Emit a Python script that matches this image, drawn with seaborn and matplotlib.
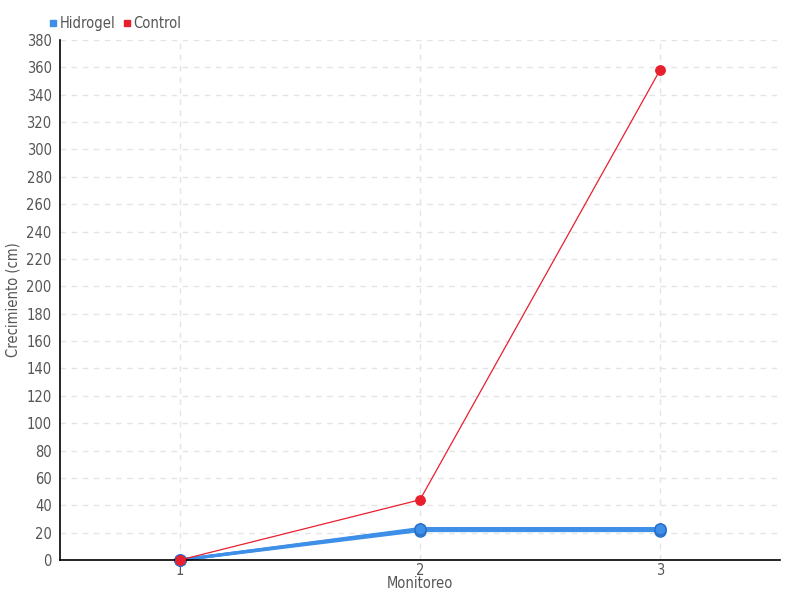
import numpy as np
import pandas as pd
import seaborn as sns
import matplotlib
matplotlib.use("Agg")
import matplotlib.pyplot as plt
from matplotlib.lines import Line2D

monitoreo = [1, 2, 3]
hidrogel_a = [0, 21.5, 21.5]
hidrogel_b = [0, 22.5, 22.5]
hidrogel_c = [0, 23, 23]
control = [0, 44, 358]
yticks = list(range(0, 381, 20))

sns.set_style("white")
plt.rcParams['font.family'] = ['DejaVu Sans']
plt.rcParams['font.stretch'] = 'condensed'

blue = "#3d8fe8"
red = "#e8202e"
txt = "#555555"

fig = plt.figure(figsize=(8, 6), dpi=100)
ax = fig.add_axes([60/800, 40/600, 720/800, 520/600])

for vals in [hidrogel_a, hidrogel_b, hidrogel_c]:
    df = pd.DataFrame({"Monitoreo": monitoreo, "v": vals})
    sns.lineplot(data=df, x="Monitoreo", y="v", ax=ax, color=blue, lw=2.2,
                 marker="o", markersize=8, markerfacecolor=blue,
                 markeredgecolor="#2a70c8", markeredgewidth=1, clip_on=False)

dfc = pd.DataFrame({"Monitoreo": monitoreo, "v": control})
sns.lineplot(data=dfc, x="Monitoreo", y="v", ax=ax, color=red, lw=0.9,
             marker="o", markersize=7, markerfacecolor=red,
             markeredgecolor=red, zorder=10, clip_on=False)

ax.set_xlim(0.5, 3.5)
ax.set_ylim(0, 380)
ax.set_yticks(yticks)
ax.set_xticks(monitoreo)
ax.set_xticklabels([str(m) for m in monitoreo])
ax.grid(True, color="#e4e4e4", linestyle=(0, (4, 4)), lw=1)
for s in ["top", "right"]:
    ax.spines[s].set_visible(False)
for s in ["left", "bottom"]:
    ax.spines[s].set_color("black")
    ax.spines[s].set_linewidth(1.2)
ax.tick_params(axis="y", direction="out", length=5, width=1.2, color="black",
               labelsize=10.5, labelcolor=txt, pad=1)
ax.tick_params(axis="x", direction="out", length=9, width=1, color="#666666",
               labelsize=10.5, labelcolor=txt, pad=-7)
ax.set_xlabel("Monitoreo", color=txt, fontsize=10.5, labelpad=-1)
ax.set_ylabel("Crecimiento (cm)", color=txt, fontsize=10.5, labelpad=4)

handles = [Line2D([], [], marker="s", ls="", color=blue, markersize=4.5),
           Line2D([], [], marker="s", ls="", color=red, markersize=4.5)]
fig.legend(handles, ["Hidrogel", "Control"], loc="upper left",
           bbox_to_anchor=(34/800, 1 - 3/600), ncol=2, frameon=False,
           handletextpad=0.05, columnspacing=0.4, fontsize=10.5,
           labelcolor=txt, handlelength=0.8)

fig.savefig("out.png", dpi=100)
